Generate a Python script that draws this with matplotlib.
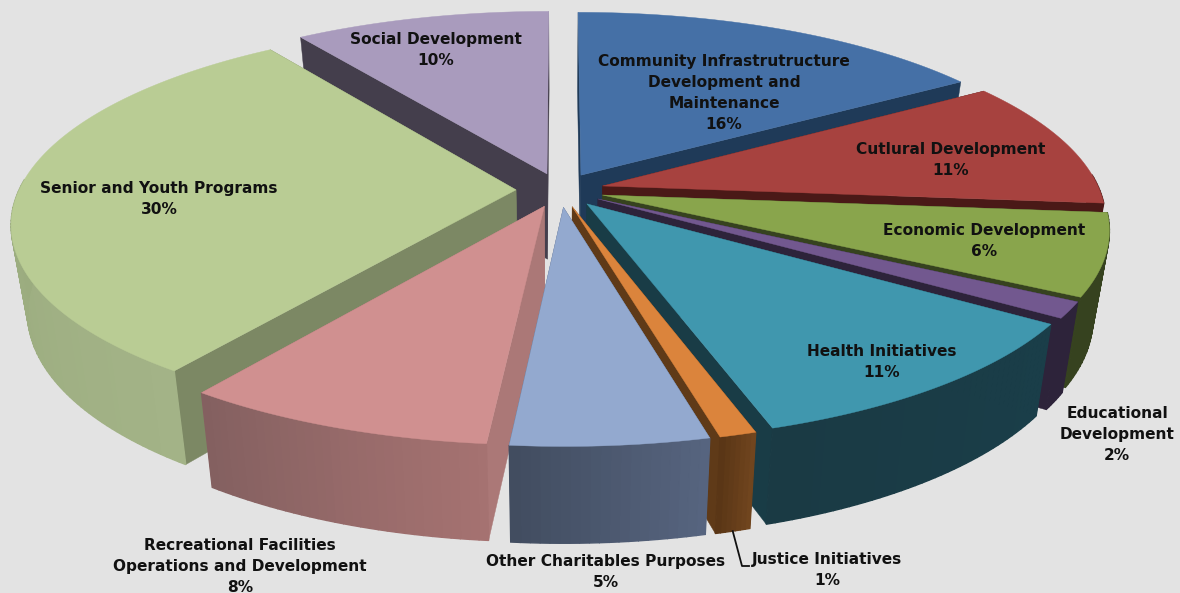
#! /usr/bin/env python
import numpy as np
import matplotlib
matplotlib.use('Agg')
import matplotlib.pyplot as plt
from matplotlib.colors import to_rgb

# slices, clockwise from 12 o'clock
names = ['Community Infrastrutructure\nDevelopment and\nMaintenance', 'Cutlural Development',
         'Economic Development', 'Educational\nDevelopment', 'Health Initiatives',
         'Justice Initiatives', 'Other Charitables Purposes',
         'Recreational Facilities\nOperations and Development',
         'Senior and Youth Programs', 'Social Development']
values = [16.0, 10.4, 6.6, 1.3, 10.8, 1.0, 5.35, 8.5, 30.35, 9.7]
pct_labels = ['16%', '11%', '6%', '2%', '11%', '1%', '5%', '8%', '30%', '10%']

top_colors = ['#4570a6', '#a7423f', '#89a54c', '#72588f', '#4097ae',
              '#db843c', '#93a9cf', '#d09090', '#b9cc94', '#a99bbd']
inner_colors = ['#1f3a58', '#4a1917', '#36421f', '#2d233a', '#193c46',
                '#5f3a18', '#4b5870', '#ab7877', '#7c8864', '#443e4c']
wall_left = ['#1f3a58', '#4a1917', '#36421f', '#2d233a', '#1a3e49',
             '#70451e', '#56647f', '#a57271', '#a3b387', '#443e4c']
wall_right = ['#1f3a58', '#4a1917', '#36421f', '#2d233a', '#1a3a44',
              '#5a3616', '#424d60', '#846060', '#92a476', '#443e4c']

label_x = [724, 951, 984, 1117, 882, 827, 606, 240, 159, 436]
label_y = [93, 160, 241, 434, 362, 570, 572, 566, 199, 50]

# projection of the 3d pie to pixels
cx, cy = 560, 190
R = 497
ex = 44      # explosion
tilt = 0.39
persp = 0.163
depth = 86
shrink = 0.97


def proj(x, y, low=False):
    s = 1.0 / (1.0 + persp * y / R)
    if low:
        return cx + x * s * shrink, cy - tilt * y * s * shrink + depth * s
    return cx + x * s, cy - tilt * y * s


def mix(a, b, t):
    a = np.array(to_rgb(a))
    b = np.array(to_rgb(b))
    return tuple(a + (b - a) * t)


fig = plt.figure(figsize=(11.8, 5.93), dpi=100, facecolor='#e3e3e3')
ax = fig.add_axes([0, 0, 1, 1])
ax.set_xlim(0, 1180)
ax.set_ylim(593, 0)
ax.axis('off')

edges = 2 * np.pi * np.cumsum([0] + values) / float(sum(values))
mids = 0.5 * (edges[:-1] + edges[1:])

# back slices first
for i in np.argsort(-np.cos(mids)):
    ox = ex * np.sin(mids[i])
    oy = ex * np.cos(mids[i])
    t = np.linspace(edges[i], edges[i + 1], max(int(values[i] * 4), 8))
    x = ox + R * np.sin(t)
    y = oy + R * np.cos(t)

    # inner walls
    for xe, ye in ((x[0], y[0]), (x[-1], y[-1])):
        quad = [proj(ox, oy), proj(xe, ye), proj(xe, ye, True), proj(ox, oy, True)]
        ax.fill(*zip(*quad), color=inner_colors[i], lw=0.3)

    # outer wall, shaded across the slice; the back part is hidden anyway
    for j in range(len(t) - 1):
        if np.cos(t[j]) > 0.05 and np.cos(t[j + 1]) > 0.05:
            continue
        quad = [proj(x[j], y[j]), proj(x[j + 1], y[j + 1]),
                proj(x[j + 1], y[j + 1], True), proj(x[j], y[j], True)]
        ax.fill(*zip(*quad), color=mix(wall_left[i], wall_right[i], j / (len(t) - 2.0)), lw=1.0)

    # top
    pts = [proj(ox, oy)] + [proj(a, b) for a, b in zip(x, y)]
    ax.fill(*zip(*pts), color=top_colors[i], lw=0.3)

# leader of the smallest slice
k = pct_labels.index('1%')
lx, ly = proj((ex + R) * np.sin(mids[k]), (ex + R) * np.cos(mids[k]), True)
ax.plot([lx, label_x[k] - 85, label_x[k] - 78], [ly, label_y[k] - 4, label_y[k] - 4],
        color='#111111', lw=1.3, zorder=3)

for i in range(len(names)):
    ax.text(label_x[i], label_y[i], names[i] + '\n' + pct_labels[i], ha='center', va='center',
            fontsize=11.1, fontweight='bold', color='#111111', linespacing=1.5, zorder=4)

fig.savefig('out.png', dpi=100, facecolor=fig.get_facecolor())
